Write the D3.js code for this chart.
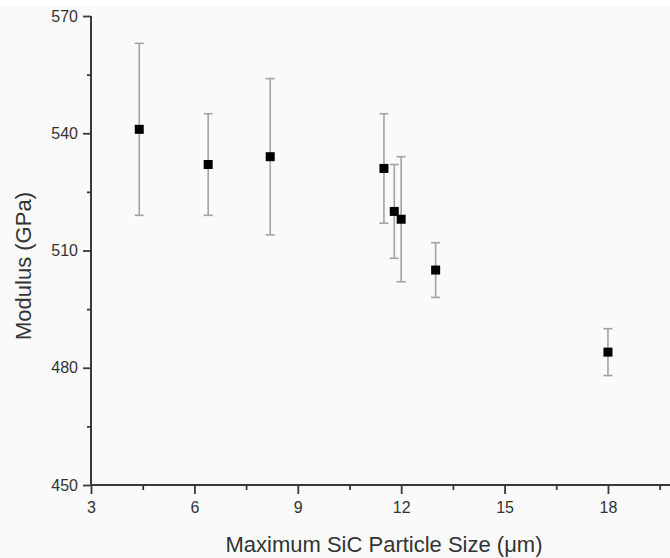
<!DOCTYPE html>
<html>
<head>
<meta charset="utf-8">
<script src="https://cdn.jsdelivr.net/npm/d3@7"></script>
<style>
  html, body { margin: 0; padding: 0; background: #ffffff; }
  svg { display: block; }
  text { font-family: "Liberation Sans", Arial, sans-serif; fill: #333; }
</style>
</head>
<body>
<svg id="chart" width="670" height="558"></svg>
<script>
// Maximum SiC particle size (µm) vs. measured modulus (GPa), with error bars
const particleSize = [4.4, 6.4, 8.2, 11.5, 11.8, 12.0, 13.0, 18.0];
const modulus      = [541, 532, 534, 531, 520, 518, 505, 484];
const errUpper     = [22, 13, 20, 14, 12, 16, 7, 6];
const errLower     = [22, 13, 20, 14, 12, 16, 7, 6];

const xTicks = [3, 6, 9, 12, 15, 18];
const xMinorTicks = [4.5, 7.5, 10.5, 13.5, 16.5, 19.5];
const yTicks = [450, 480, 510, 540, 570];
const yMinorTicks = [465, 495, 525, 555];

const xLabel = "Maximum SiC Particle Size (\u03bcm)";
const yLabel = "Modulus (GPa)";

const svg = d3.select("#chart");
const W = 670, H = 558;

// page background
svg.append("rect").attr("x", 0).attr("y", 0).attr("width", W).attr("height", H).attr("fill", "#fafafa");
svg.append("rect").attr("x", 0).attr("y", 0).attr("width", W).attr("height", 6).attr("fill", "#ffffff");

const x = d3.scaleLinear().domain([3, 19.8]).range([91, 670]);
const y = d3.scaleLinear().domain([450, 570]).range([485, 16]);

const axisColor = "#3a3a3a";

// x axis
const xAxis = svg.append("g").attr("transform", `translate(0,${y(450)})`);
xAxis.call(d3.axisBottom(x).tickValues(xTicks).tickSize(9).tickPadding(8).tickFormat(d3.format("d")));
xAxis.append("g").call(d3.axisBottom(x).tickValues(xMinorTicks).tickSize(5).tickFormat(""));
xAxis.selectAll(".domain").remove();
xAxis.append("line").attr("x1", x(3)).attr("x2", W).attr("y1", 0).attr("y2", 0)
  .attr("stroke", axisColor).attr("stroke-width", 2);

// y axis
const yAxis = svg.append("g").attr("transform", `translate(${x(3)},0)`);
yAxis.call(d3.axisLeft(y).tickValues(yTicks).tickSize(8).tickPadding(5).tickFormat(d3.format("d")));
yAxis.append("g").call(d3.axisLeft(y).tickValues(yMinorTicks).tickSize(4).tickFormat(""));
yAxis.selectAll(".domain").remove();
yAxis.append("line").attr("x1", 0).attr("x2", 0).attr("y1", y(570)).attr("y2", y(450))
  .attr("stroke", axisColor).attr("stroke-width", 2);

svg.selectAll(".tick line").attr("stroke", axisColor).attr("stroke-width", 1.8);
svg.selectAll(".tick text").attr("font-size", 16).attr("fill", "#333")
  .style("font-family", "'Liberation Sans', Arial, sans-serif");

// axis titles
svg.append("text")
  .attr("x", 384).attr("y", 552)
  .attr("text-anchor", "middle")
  .attr("font-size", 22)
  .text(xLabel);

svg.append("text")
  .attr("transform", "translate(31,266) rotate(-90)")
  .attr("text-anchor", "middle")
  .attr("font-size", 22)
  .text(yLabel);

// data
const data = particleSize.map((s, i) => ({
  s, m: modulus[i], hi: modulus[i] + errUpper[i], lo: modulus[i] - errLower[i]
}));

const errColor = "#a3a3a3";
const capW = 4.5;
const bars = svg.append("g").attr("class", "errorbars");
data.forEach(d => {
  const g = bars.append("g");
  g.append("line").attr("x1", x(d.s)).attr("x2", x(d.s)).attr("y1", y(d.hi)).attr("y2", y(d.lo))
    .attr("stroke", errColor).attr("stroke-width", 1.6);
  g.append("line").attr("x1", x(d.s) - capW).attr("x2", x(d.s) + capW).attr("y1", y(d.hi)).attr("y2", y(d.hi))
    .attr("stroke", errColor).attr("stroke-width", 1.6);
  g.append("line").attr("x1", x(d.s) - capW).attr("x2", x(d.s) + capW).attr("y1", y(d.lo)).attr("y2", y(d.lo))
    .attr("stroke", errColor).attr("stroke-width", 1.6);
});

const size = 9;
svg.append("g").selectAll("rect.pt").data(data).join("rect")
  .attr("class", "pt")
  .attr("x", d => x(d.s) - size / 2)
  .attr("y", d => y(d.m) - size / 2)
  .attr("width", size).attr("height", size)
  .attr("fill", "#000");
</script>
</body>
</html>
